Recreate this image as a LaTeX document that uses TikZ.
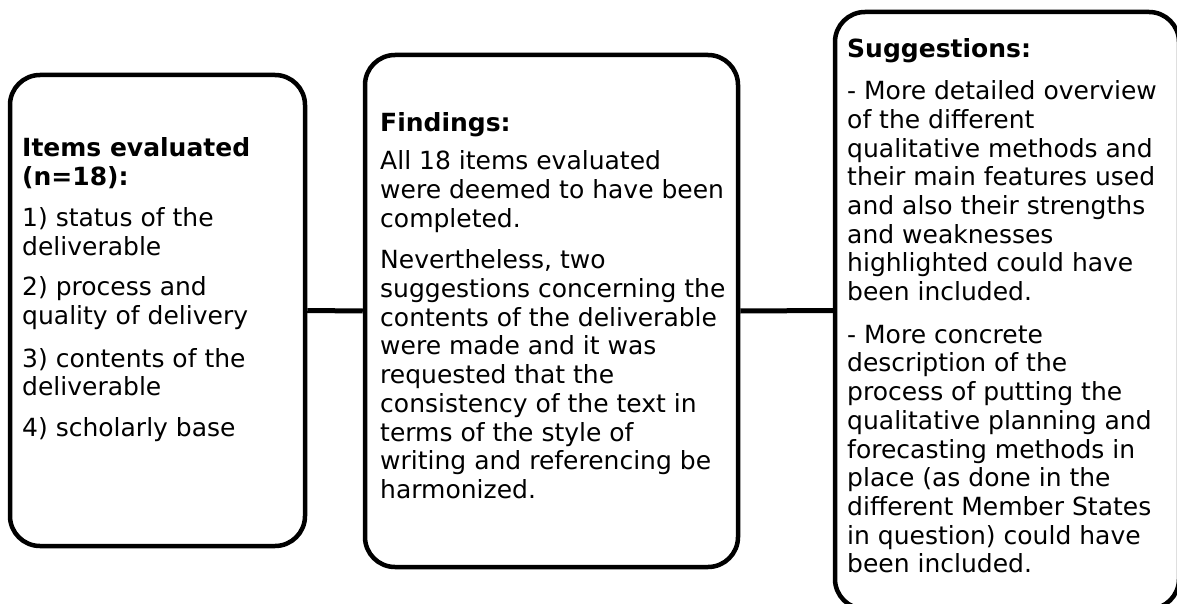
\documentclass[tikz,border=0pt]{standalone}
\usepackage{fontspec}
\setmainfont{DejaVu Sans}
\begin{document}
\begin{tikzpicture}[x=1pt,y=-1pt,
  panel/.style={draw=black, line width=4.5pt, rounded corners=30pt, fill=white, inner sep=0pt},
  link/.style={draw=black, line width=5pt},
  body/.style={anchor=base west, inner sep=0pt, font=\fontsize{25}{28.7}\selectfont}]
  \useasboundingbox (0,0) rectangle (1177,604);
  \clip (0,0) rectangle (1177,604);

  % three rounded panels (the right one runs past the page edge)
  \node[panel, minimum width=295pt, minimum height=471pt] (items) at (157.5,310.5) {};
  \node[panel, minimum width=373pt, minimum height=512pt] (findings) at (551.5,311) {};
  \node[panel, minimum width=344pt, minimum height=597pt] (suggest) at (1007,310.5) {};

  % connectors between panels
  \draw[link] (items.east) -- (findings.west);
  \draw[link] (findings.east) -- (suggest.west);

  % panel texts
  \node[body] (itemstext) at (22,157) {\parbox[t]{280pt}{\raggedright
    \textbf{Items evaluated}\\
    \textbf{(n=18):}\\[12pt]
    1) status of the\\
    deliverable\\[12pt]
    2) process and\\
    quality of delivery\\[14pt]
    3) contents of the\\
    deliverable\\[12pt]
    4) scholarly base}};

  \node[body] (findingstext) at (380,132) {\parbox[t]{360pt}{\raggedright
    \textbf{Findings:}\\[9pt]
    All 18 items evaluated\\
    were deemed to have been\\
    completed.\\[13pt]
    Nevertheless, two\\
    suggestions concerning the\\
    contents of the deliverable\\
    were made and it was\\
    requested that the\\
    consistency of the text in\\
    terms of the style of\\
    writing and referencing be\\
    harmonized.}};

  \node[body] (suggesttext) at (847,58) {\parbox[t]{330pt}{\raggedright
    \textbf{Suggestions:}\\[13pt]
    - More detailed overview\\
    of the different\\
    qualitative methods and\\
    their main features used\\
    and also their strengths\\
    and weaknesses\\
    highlighted could have\\
    been included.\\[14pt]
    - More concrete\\
    description of the\\
    process of putting the\\
    qualitative planning and\\
    forecasting methods in\\
    place (as done in the\\
    different Member States\\
    in question) could have\\
    been included.}};
\end{tikzpicture}
\end{document}
